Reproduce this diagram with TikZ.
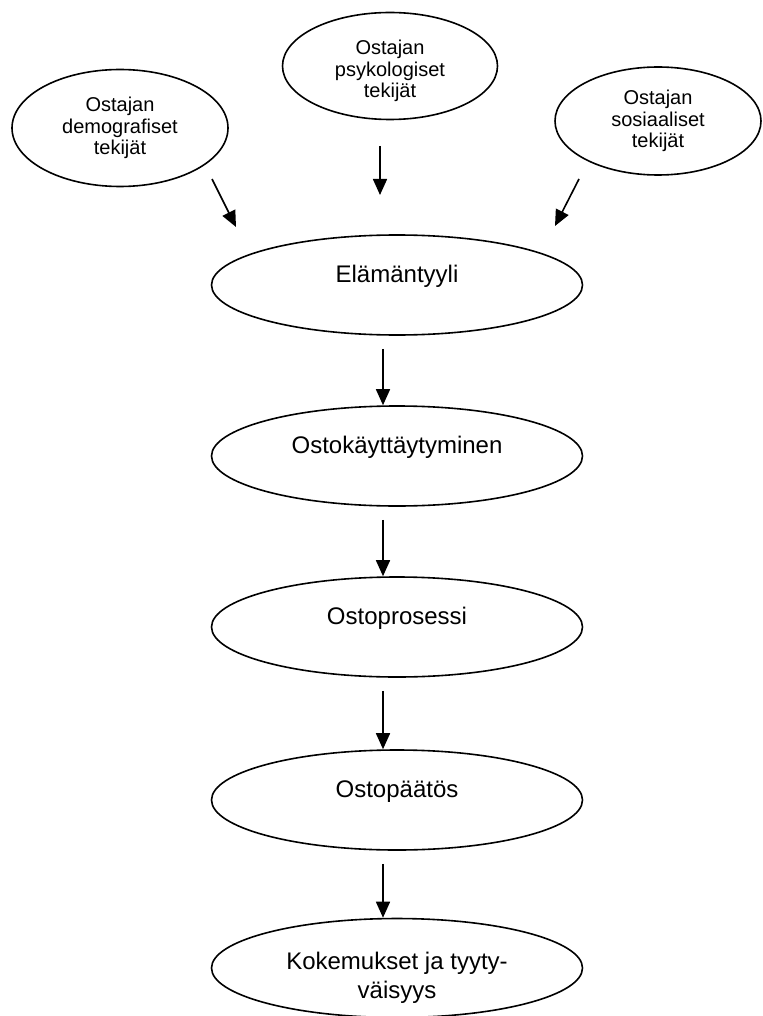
\documentclass[tikz,border=0pt]{standalone}
\usepackage{fontspec}
\setmainfont{Liberation Sans}
\usetikzlibrary{shapes.geometric,arrows.meta}

\begin{document}
\begin{tikzpicture}[x=0.5pt, y=-0.5pt, line width=0.8pt,
  factor/.style={ellipse, draw=black, inner sep=0pt, align=center,
    font=\fontsize{10}{10.8}\selectfont},
  stage/.style={ellipse, draw=black, inner sep=0pt, align=center,
    minimum width=185.5pt, minimum height=50pt,
    font=\fontsize{12}{14.5}\selectfont},
  oneline/.style={text height=9pt, text depth=11.4pt},
  arr/.style={-{Triangle[length=8pt, width=7pt]}}]

\useasboundingbox (0,0) rectangle (763,1016);

% Factor nodes
\node[factor, minimum width=108pt, minimum height=58.5pt] (demo) at (120,128)
  {Ostajan\\demografiset\\tekijät};
\node[factor, minimum width=107.5pt, minimum height=53.5pt, text height=34pt]
  (psyk) at (390,66) {Ostajan\\psykologiset\\tekijät};
\node[factor, minimum width=103pt, minimum height=54pt] (sos) at (658,121)
  {Ostajan\\sosiaaliset\\tekijät};

% Stage nodes
\node[stage, oneline] (elama) at (397,285) {Elämäntyyli};
\node[stage, oneline] (kayt) at (397,456) {Ostokäyttäytyminen};
\node[stage, oneline] (prosessi) at (397,627) {Ostoprosessi};
\node[stage, oneline] (paatos) at (397,800) {Ostopäätös};
\node[stage, minimum height=48pt, text height=32.5pt] (kokemus)
  at (397,968) {Kokemukset ja tyyty-\\väisyys};

% Factor arrows
\coordinate (demoout) at (212,179);
\coordinate (demoin) at (236,227);
\coordinate (psykout) at (380,146);
\coordinate (psykin) at (380,195);
\coordinate (sosout) at (579,179);
\coordinate (sosin) at (555,226);
\draw[arr] (demoout) -- (demoin);
\draw[arr] (psykout) -- (psykin);
\draw[arr] (sosout) -- (sosin);

% Stage arrows
\foreach \a/\b in {elama/kayt, kayt/prosessi, prosessi/paatos, paatos/kokemus}
\draw[arr, shorten <=6.5pt] ([xshift=-7pt]\a.south) -- ([xshift=-7pt]\b.north);

\end{tikzpicture}
\end{document}
